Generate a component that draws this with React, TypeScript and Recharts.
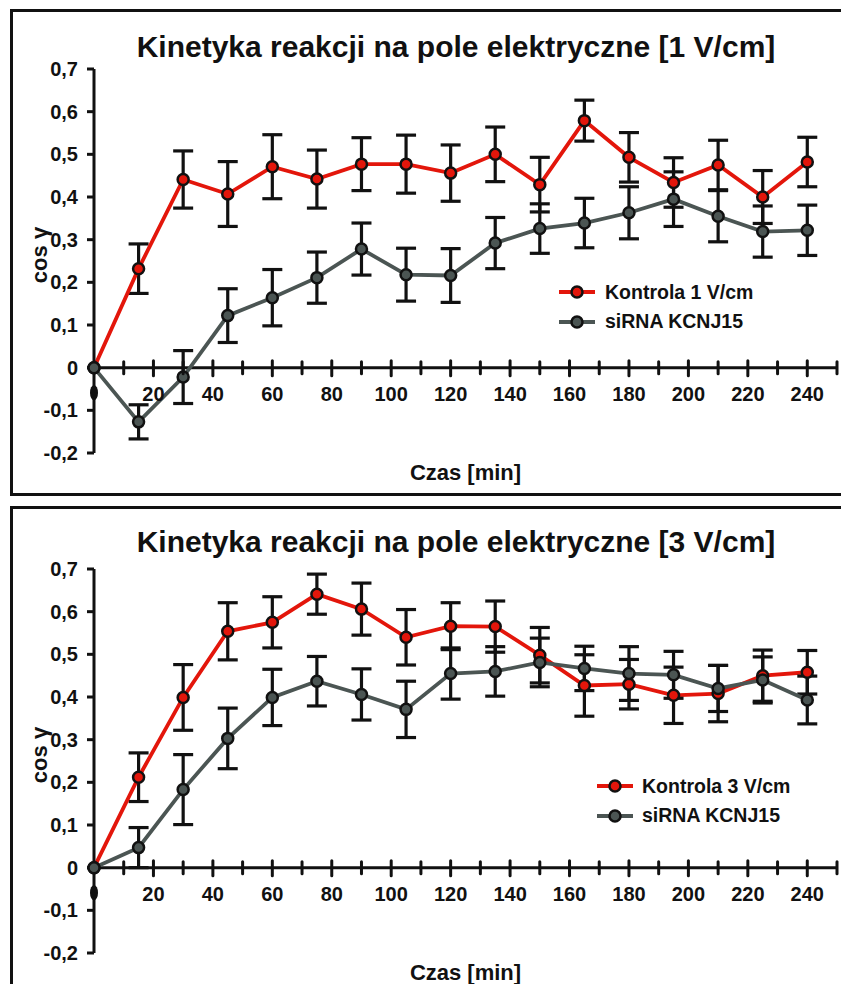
import React from 'react';
import { LineChart, Line, XAxis, YAxis, ErrorBar, ReferenceLine, Legend } from 'recharts';

const TIMES = [0, 15, 30, 45, 60, 75, 90, 105, 120, 135, 150, 165, 180, 195, 210, 225, 240];

const KONTROLA_1 = [0, 0.232, 0.441, 0.407, 0.471, 0.442, 0.477, 0.477, 0.456, 0.5, 0.429, 0.579, 0.493, 0.434, 0.475, 0.4, 0.482];
const KONTROLA_1_ERR = [null, 0.058, 0.067, 0.076, 0.075, 0.068, 0.062, 0.068, 0.066, 0.064, 0.064, 0.048, 0.058, 0.058, 0.058, 0.062, 0.058];
const SIRNA_1 = [0, -0.127, -0.022, 0.122, 0.164, 0.211, 0.278, 0.218, 0.216, 0.292, 0.326, 0.339, 0.363, 0.395, 0.355, 0.319, 0.322];
const SIRNA_1_ERR = [null, 0.04, 0.062, 0.063, 0.066, 0.06, 0.061, 0.062, 0.063, 0.06, 0.058, 0.058, 0.061, 0.064, 0.06, 0.06, 0.059];

const KONTROLA_3 = [0, 0.212, 0.399, 0.554, 0.575, 0.641, 0.606, 0.54, 0.566, 0.565, 0.498, 0.427, 0.43, 0.404, 0.408, 0.45, 0.458];
const KONTROLA_3_ERR = [null, 0.057, 0.077, 0.067, 0.06, 0.047, 0.061, 0.065, 0.055, 0.06, 0.065, 0.072, 0.058, 0.066, 0.066, 0.06, 0.051];
const SIRNA_3 = [0, 0.047, 0.183, 0.303, 0.399, 0.437, 0.406, 0.371, 0.455, 0.46, 0.481, 0.467, 0.455, 0.452, 0.42, 0.44, 0.393];
const SIRNA_3_ERR = [null, 0.047, 0.082, 0.071, 0.066, 0.058, 0.06, 0.066, 0.06, 0.058, 0.057, 0.052, 0.063, 0.055, 0.054, 0.054, 0.056];

const X_TICKS = [0, 10, 20, 30, 40, 50, 60, 70, 80, 90, 100, 110, 120, 130, 140, 150, 160, 170, 180, 190, 200, 210, 220, 230, 240, 250];
const Y_TICKS = [-0.2, -0.1, 0, 0.1, 0.2, 0.3, 0.4, 0.5, 0.6, 0.7];
const X_DOMAIN: [number, number] = [0, 250];
const Y_DOMAIN: [number, number] = [-0.2, 0.7];

const RED = '#e3160b';
const GRAY = '#4b5553';
const INK = '#111';
const FONT = '"Liberation Sans", Arial, sans-serif';

const CHART_W = 841;
const CHART_H = 495;
const MARGIN = { top: 69, right: 4, bottom: 12, left: 14 };
const Y_AXIS_W = 80;
const X_AXIS_H = 30;
const PLOT_H = CHART_H - MARGIN.top - MARGIN.bottom - X_AXIS_H;
const ZERO_Y = MARGIN.top + (PLOT_H * Y_DOMAIN[1]) / (Y_DOMAIN[1] - Y_DOMAIN[0]);

const buildRows = (k: number[], kErr: (number | null)[], s: number[], sErr: (number | null)[]) =>
  TIMES.map((t, i) => ({ t, k: k[i], kErr: kErr[i], s: s[i], sErr: sErr[i] }));

const fmtY = (v: number) => (Math.abs(v) < 1e-9 ? '0' : v.toFixed(1).replace('.', ','));

const XTick = (props: any) => {
  const { x, payload } = props;
  const v = payload.value;
  if (v === 0) {
    return <ellipse cx={x} cy={ZERO_Y + 25} rx={4} ry={7.5} fill={INK} />;
  }
  const major = v % 20 === 0;
  return (
    <g>
      <line x1={x} x2={x} y1={ZERO_Y - (major ? 7 : 6)} y2={ZERO_Y + (major ? 8 : 6)} stroke={INK} strokeWidth={3} strokeLinecap="round" />
      {major && (
        <text x={x} y={ZERO_Y + 33} textAnchor="middle" fill={INK} style={{ fontFamily: FONT, fontWeight: 'bold', fontSize: 20 }}>
          {v}
        </text>
      )}
    </g>
  );
};

const LegendContent = (iconW: number) => (props: any) => {
  const payload = props.payload || [];
  return (
    <div>
      {payload.map((e: any) => (
        <div key={e.value} style={{ display: 'flex', alignItems: 'center', height: 29.5 }}>
          <svg width={iconW} height={14} style={{ display: 'block' }}>
            <line x1={0} x2={36} y1={7} y2={7} stroke={e.color} strokeWidth={4} />
            <circle cx={18} cy={7} r={5.5} fill={e.color} stroke={INK} strokeWidth={2.5} />
          </svg>
          <span style={{ fontFamily: FONT, fontWeight: 'bold', fontSize: 19.5, color: INK, whiteSpace: 'nowrap' }}>{e.value}</span>
        </div>
      ))}
    </div>
  );
};

type PanelProps = {
  top: number;
  title: string;
  titleTop: number;
  redName: string;
  data: any[];
  legendLeft: number;
  legendTop: number;
  legendIconW: number;
};

const Panel = ({ top, title, titleTop, redName, data, legendLeft, legendTop, legendIconW }: PanelProps) => (
  <div style={{ position: 'absolute', left: 0, top, width: CHART_W, height: CHART_H }}>
    <div
      style={{
        position: 'absolute',
        left: 0,
        top: titleTop,
        width: 912,
        textAlign: 'center',
        fontFamily: FONT,
        fontWeight: 'bold',
        fontSize: 30,
        lineHeight: '30px',
        color: INK,
        whiteSpace: 'nowrap',
      }}
    >
      {title}
    </div>
    <LineChart width={CHART_W} height={CHART_H} data={data} margin={MARGIN}>
      <XAxis
        dataKey="t"
        type="number"
        domain={X_DOMAIN}
        ticks={X_TICKS}
        interval={0}
        axisLine={false}
        tickLine={false}
        tick={<XTick />}
        height={X_AXIS_H}
        label={{
          content: (p: any) => {
            const vb = p.viewBox || { x: 94, y: 453, width: 743 };
            return (
              <text x={vb.x + vb.width / 2} y={vb.y + 27} textAnchor="middle" fill={INK} style={{ fontFamily: FONT, fontWeight: 'bold', fontSize: 22 }}>
                Czas [min]
              </text>
            );
          },
        }}
      />
      <YAxis
        type="number"
        domain={Y_DOMAIN}
        ticks={Y_TICKS}
        interval={0}
        width={Y_AXIS_W}
        tickFormatter={fmtY}
        axisLine={{ stroke: INK, strokeWidth: 3 }}
        tickLine={{ stroke: INK, strokeWidth: 3 }}
        tickSize={7}
        tickMargin={9}
        tick={{ fill: INK, fontFamily: FONT, fontWeight: 'bold', fontSize: 20 }}
        label={{
          content: (p: any) => {
            const vb = p.viewBox || { x: 14, y: 69, height: 384 };
            const x = vb.x + 33;
            const y = vb.y + vb.height / 2 - 6;
            return (
              <text x={x} y={y} transform={`rotate(-90 ${x} ${y})`} textAnchor="middle" fill={INK} style={{ fontFamily: FONT, fontWeight: 'bold', fontSize: 22 }}>
                cos γ
              </text>
            );
          },
        }}
      />
      <ReferenceLine y={0} stroke={INK} strokeWidth={3} />
      <Legend
        layout="horizontal"
        align="center"
        verticalAlign="middle"
        content={LegendContent(legendIconW)}
        wrapperStyle={{ left: legendLeft, top: legendTop, width: 'auto' }}
      />
      <Line
        name={redName}
        dataKey="k"
        stroke={RED}
        strokeWidth={3.8}
        isAnimationActive={false}
        dot={{ r: 5.5, fill: RED, stroke: INK, strokeWidth: 2.5 }}
      >
        <ErrorBar dataKey="kErr" direction="y" width={10} strokeWidth={3.2} stroke={INK} />
      </Line>
      <Line
        name="siRNA KCNJ15"
        dataKey="s"
        stroke={GRAY}
        strokeWidth={3.8}
        isAnimationActive={false}
        dot={{ r: 5.5, fill: GRAY, stroke: INK, strokeWidth: 2.5 }}
      >
        <ErrorBar dataKey="sErr" direction="y" width={10} strokeWidth={3.2} stroke={INK} />
      </Line>
    </LineChart>
  </div>
);

export default function App() {
  const data1 = buildRows(KONTROLA_1, KONTROLA_1_ERR, SIRNA_1, SIRNA_1_ERR);
  const data3 = buildRows(KONTROLA_3, KONTROLA_3_ERR, SIRNA_3, SIRNA_3_ERR);
  return (
    <div style={{ position: 'fixed', left: 0, top: 0, width: 841, height: 984, overflow: 'hidden', background: '#fff' }}>
      <div style={{ position: 'absolute', left: 10, top: 9, width: 900, height: 481, border: `3px solid ${INK}` }} />
      <div style={{ position: 'absolute', left: 10, top: 506, width: 900, height: 600, border: `3px solid ${INK}` }} />
      <Panel
        top={0}
        title="Kinetyka reakcji na pole elektryczne [1 V/cm]"
        titleTop={32}
        redName="Kontrola 1 V/cm"
        data={data1}
        legendLeft={559}
        legendTop={277.5}
        legendIconW={46}
      />
      <Panel
        top={500}
        title="Kinetyka reakcji na pole elektryczne [3 V/cm]"
        titleTop={27}
        redName="Kontrola 3 V/cm"
        data={data3}
        legendLeft={597}
        legendTop={271.5}
        legendIconW={45}
      />
    </div>
  );
}
